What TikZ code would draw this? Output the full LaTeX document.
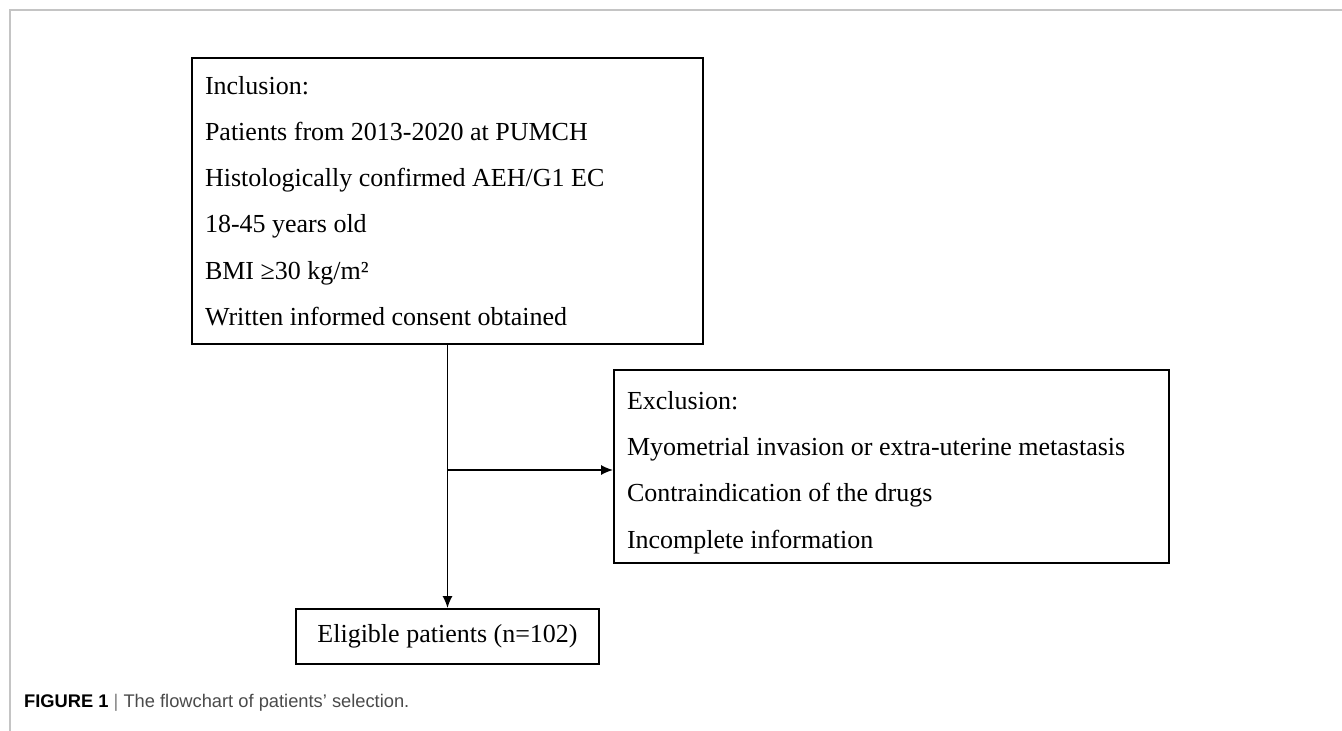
\documentclass[tikz,border=0pt]{standalone}
\usepackage{fontspec}
\setmainfont{Liberation Serif}
\newfontfamily\capfont{Liberation Sans}
\usetikzlibrary{arrows.meta,positioning}
\definecolor{framegray}{HTML}{C4C4C4}
\definecolor{capgray}{HTML}{4A4A4A}

\begin{document}
\begin{tikzpicture}[x=1pt, y=-1pt,
        box/.style={draw, line width=1.8pt, inner xsep=13pt, align=left, font=\fontsize{26}{46.3}\selectfont,
            execute at begin node={\spaceskip=0.25em\relax}},
        arrow/.style={line width=1.6pt, -{Latex[length=12pt, width=10pt]}}]
        \useasboundingbox (0,0) rectangle (1342,731);
        \draw[framegray, line width=1.5pt] (10,731) -- (10,10) -- (1342,10);
        \node[box, text width=485pt, minimum height=286pt] (inc) at (447.5,201) {Inclusion:\\Patients from 2013-2020 at PUMCH\\Histologically confirmed AEH/G1 EC\\18-45 years old\\BMI ≥30 kg/m²\\Written informed consent obtained};
        \node[box, text width=529pt, minimum height=193pt] (excl) at (891.5,466.5) {\rule{0pt}{30pt}Exclusion:\\Myometrial invasion or extra-uterine metastasis\\Contraindication of the drugs\\Incomplete information};
        \node[box, align=center, minimum width=303pt, minimum height=55pt, inner xsep=0pt] (elig) at (447.5,636.5) {Eligible patients (n=102)};
        \coordinate (branch) at (447.5,470);
        \draw[arrow] (inc.south) -- (elig.north);
        \draw[arrow] (branch) -- (branch -| excl.west);
        \node[anchor=base west, inner sep=0pt, font=\capfont\fontsize{18.3}{22}\selectfont] (cap) at (24,707) {{\bfseries FIGURE 1}~\textcolor{gray}{|}~\textcolor{capgray}{The flowchart of patients’ selection.}};
    \end{tikzpicture}
\end{document}
